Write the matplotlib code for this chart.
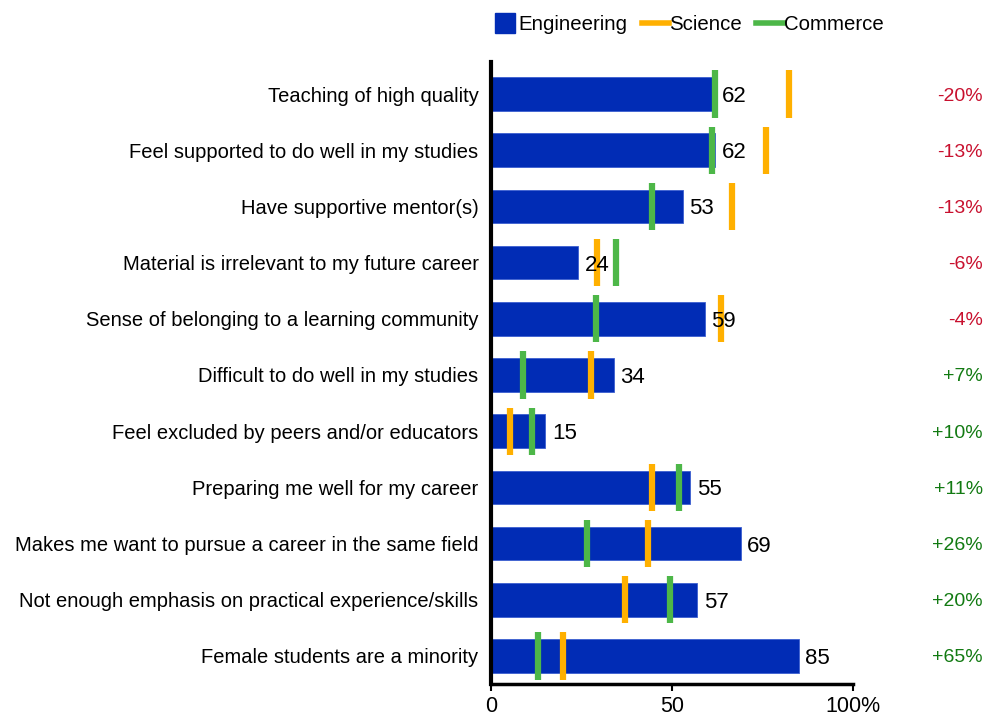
import matplotlib.pyplot as plt
from matplotlib.lines import Line2D
from matplotlib.transforms import blended_transform_factory

plt.rcParams['font.family'] = ['Liberation Sans', 'DejaVu Sans']

categories = [
    'Teaching of high quality',
    'Feel supported to do well in my studies',
    'Have supportive mentor(s)',
    'Material is irrelevant to my future career',
    'Sense of belonging to a learning community',
    'Difficult to do well in my studies',
    'Feel excluded by peers and/or educators',
    'Preparing me well for my career',
    'Makes me want to pursue a career in the same field',
    'Not enough emphasis on practical experience/skills',
    'Female students are a minority',
]
engineering = [62, 62, 53, 24, 59, 34, 15, 55, 69, 57, 85]
science = [82.3, 75.9, 66.5, 29.4, 63.5, 27.5, 5.3, 44.4, 43.3, 36.9, 20.0]
commerce = [61.8, 61.0, 44.4, 34.4, 28.9, 8.9, 11.4, 51.9, 26.4, 49.4, 13.1]
deltas = ['-20%', '-13%', '-13%', '-6%', '-4%', '+7%', '+10%', '+11%', '+26%', '+20%', '+65%']

blue = '#012cb5'
orange = '#ffb000'
green = '#4db748'

fig = plt.figure(figsize=(9.86, 7.17), dpi=100)
ax = fig.add_axes([0.498, 0.046, 0.367, 0.8675])

y = list(range(len(categories)))
ax.barh(y, engineering, height=0.6, color=blue, edgecolor='#3c5fd0', linewidth=0.6, zorder=2)

# right-hand column: difference engineering vs science
delta_tr = blended_transform_factory(fig.transFigure, ax.transData)

for i in y:
    ax.vlines(science[i], i - 0.42, i + 0.42, color=orange, linewidth=4.5, zorder=3)
    ax.vlines(commerce[i], i - 0.42, i + 0.42, color=green, linewidth=4.5, zorder=3)
    ax.text(engineering[i] + 1.8, i, str(engineering[i]), va='center_baseline', ha='left',
            fontsize=16, color='black', zorder=4)
    col = '#c8102e' if deltas[i].startswith('-') else '#127a12'
    ax.text(0.997, i, deltas[i], transform=delta_tr, va='center_baseline',
            ha='right', fontsize=14, color=col)

ax.set_xlim(0, 100)
ax.set_ylim(10.5, -0.57)
ax.set_yticks(y)
ax.set_yticklabels(categories, fontsize=14.5)
ax.tick_params(axis='y', length=0, pad=9)
ax.set_xticks([0, 50, 100])
ax.set_xticklabels(['0', '50', '100%'], fontsize=15.5)
ax.tick_params(axis='x', length=5, width=1.5)

for s in ['top', 'right']:
    ax.spines[s].set_visible(False)
ax.spines['left'].set_linewidth(3)
ax.spines['bottom'].set_linewidth(2.5)

handles = [
    Line2D([0], [0], marker='s', linestyle='none', markersize=14, color=blue, label='Engineering'),
    Line2D([0], [0], color=orange, linewidth=4, label='Science'),
    Line2D([0], [0], color=green, linewidth=4, label='Commerce'),
]
fig.legend(handles=handles, loc='center', bbox_to_anchor=(0.697, 0.966), ncol=3,
           frameon=False, fontsize=14.7, handlelength=1.35, handletextpad=0.0,
           columnspacing=0.7)

fig.savefig('out.png', dpi=100)
